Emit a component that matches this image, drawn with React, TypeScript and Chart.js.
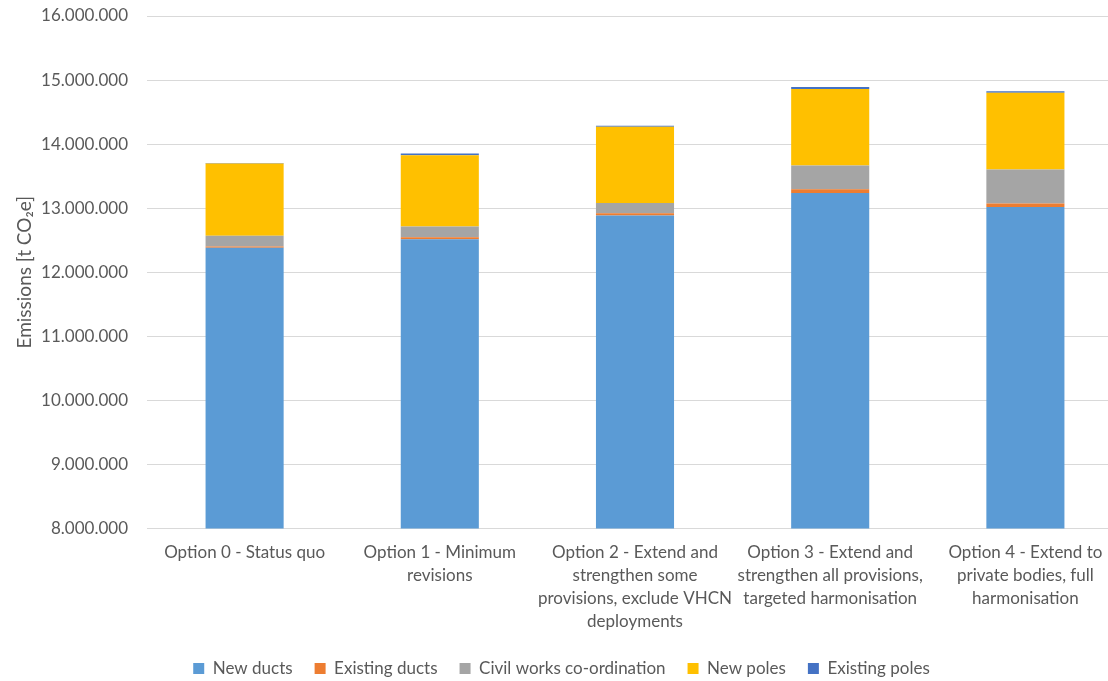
import React, { useEffect, useRef } from "react";
import { Chart, registerables } from "chart.js";

Chart.register(...registerables);

const categories: string[][] = [
  ["Option 0 - Status quo"],
  ["Option 1 - Minimum", "revisions"],
  ["Option 2 - Extend and", "strengthen some", "provisions, exclude VHCN", "deployments"],
  ["Option 3 - Extend and", "strengthen all provisions,", "targeted harmonisation"],
  ["Option 4 - Extend to", "private bodies, full", "harmonisation"],
];

const newDucts = [12383000, 12516000, 12886000, 13239000, 13020000];
const existingDucts = [19000, 31000, 36000, 58000, 53000];
const civilWorks = [166000, 167000, 161000, 370000, 531000];
const newPoles = [1128000, 1114000, 1188000, 1193000, 1197000];
const existingPoles = [8000, 25000, 16000, 31000, 26000];

const yMin = 8000000;
const yMax = 16000000;
const yStep = 1000000;

const FONT = "Lato, 'Open Sans', sans-serif";
const TEXT = "#595959";

function fmt(v: number): string {
  return Math.round(v)
    .toString()
    .replace(/\B(?=(\d{3})+(?!\d))/g, ".");
}

export default function App() {
  const ref = useRef<HTMLCanvasElement | null>(null);

  useEffect(() => {
    if (!ref.current) return;
    const chart = new Chart(ref.current, {
      type: "bar",
      data: {
        labels: categories,
        datasets: [
          { label: "New ducts", data: newDucts, backgroundColor: "#5B9BD5" },
          { label: "Existing ducts", data: existingDucts, backgroundColor: "#ED7D31" },
          { label: "Civil works co-ordination", data: civilWorks, backgroundColor: "#A5A5A5" },
          { label: "New poles", data: newPoles, backgroundColor: "#FFC000" },
          { label: "Existing poles", data: existingPoles, backgroundColor: "#4472C4" },
        ],
      },
      options: {
        animation: false,
        responsive: false,
        maintainAspectRatio: false,
        datasets: {
          bar: { categoryPercentage: 1, barPercentage: 0.4, borderWidth: 0 },
        },
        layout: { padding: { top: 16, right: 11, bottom: -6, left: 0 } },
        plugins: {
          tooltip: { enabled: false },
          legend: {
            position: "bottom",
            labels: {
              boxWidth: 11,
              boxHeight: 11,
              padding: 22,
              color: TEXT,
              font: { family: FONT, size: 17 },
            },
          },
        },
        scales: {
          x: {
            stacked: true,
            grid: { display: false, drawTicks: false },
            border: { display: true, color: "#D9D9D9", width: 1 },
            ticks: {
              color: TEXT,
              font: { family: FONT, size: 17, lineHeight: 1.36 },
              padding: 12,
              maxRotation: 0,
              autoSkip: false,
            },
            afterFit: (s: any) => {
              s.height = s.height - 7;
              s.paddingTop = 0;
            },
          },
          y: {
            stacked: true,
            min: yMin,
            max: yMax,
            grid: { color: "#D9D9D9", lineWidth: 1, drawTicks: false },
            border: { display: false },
            ticks: {
              stepSize: yStep,
              color: TEXT,
              font: { family: FONT, size: 17 },
              padding: 19,
              callback: (v: any) => fmt(Number(v)),
            },
            title: {
              display: true,
              text: "Emissions [t CO₂e]",
              color: TEXT,
              font: { family: FONT, size: 19 },
              padding: { top: 13.6, bottom: 0 },
            },
            afterFit: (s: any) => {
              s.width = 147;
              s.paddingTop = 0;
              s.paddingBottom = 0;
            },
          },
        },
      },
    });
    return () => chart.destroy();
  }, []);

  return (
    <div
      style={{
        position: "fixed",
        left: 0,
        top: 0,
        width: 1108,
        height: 681,
        overflow: "hidden",
        background: "#fff",
      }}
    >
      <canvas ref={ref} width={1134} height={681} style={{ display: "block" }} />
    </div>
  );
}
